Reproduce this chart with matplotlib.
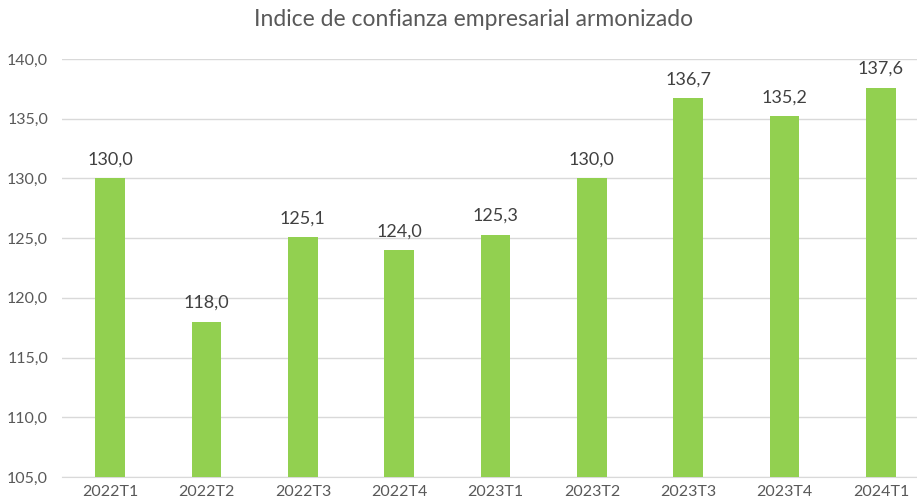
import matplotlib
matplotlib.use("Agg")
import matplotlib.pyplot as plt

categories = ["2022T1", "2022T2", "2022T3", "2022T4", "2023T1",
              "2023T2", "2023T3", "2023T4", "2024T1"]
values = [130.0, 118.0, 125.1, 124.0, 125.3, 130.0, 136.7, 135.2, 137.6]
yticks = [105, 110, 115, 120, 125, 130, 135, 140]

plt.rcParams['font.family'] = ['Lato', 'DejaVu Sans']

fig = plt.figure(figsize=(9.17, 5.04), dpi=100)
# plot area runs a bit past the right edge, as in the cropped original
ax = fig.add_axes([62 / 917, 1 - 477 / 504, (929 - 62) / 917, (477 - 59) / 504])

x = range(len(categories))
bars = ax.bar(x, [v - 105 for v in values], bottom=105, width=0.31,
              color="#92D050", zorder=3)

for xi, v in zip(x, values):
    ax.text(xi, v + 0.9, f"{v:.1f}".replace(".", ","), ha="center", va="bottom",
            fontsize=13, color="#404040")

ax.set_xlim(-0.5, len(categories) - 0.5)
ax.set_ylim(105, 140)
ax.set_yticks(yticks)
ax.set_yticklabels([f"{t:.1f}".replace(".", ",") for t in yticks])
ax.set_xticks(list(x))
ax.set_xticklabels(categories)
ax.tick_params(axis="both", length=0, labelsize=11.5, colors="#595959")
ax.tick_params(axis="y", pad=10)
ax.tick_params(axis="x", pad=6)

ax.grid(axis="y", color="#D9D9D9", linewidth=1, zorder=0)
for s in ["top", "right", "left"]:
    ax.spines[s].set_visible(False)
ax.spines["bottom"].set_color("#D9D9D9")

fig.text(474 / 917, 1 - 20 / 504, "Indice de confianza empresarial armonizado",
         ha="center", va="center", fontsize=16.5, color="#595959")

fig.savefig("out.png", dpi=100)
